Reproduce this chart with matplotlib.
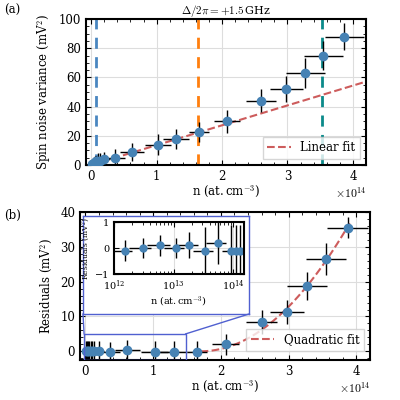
import numpy as np
import matplotlib
matplotlib.use("Agg")
import matplotlib.pyplot as plt
from matplotlib.patches import Rectangle

plt.rcParams.update({"font.family": "DejaVu Serif", "mathtext.fontset": "cm", "font.size": 8.5,
                     "xtick.direction": "in", "ytick.direction": "in",
                     "xtick.top": True, "ytick.right": True, "axes.linewidth": 1.5})

x = [0.01, 0.02, 0.04, 0.06, 0.08, 0.10, 0.13, 0.20, 0.36, 0.62, 1.02, 1.30, 1.65, 2.07, 2.60, 2.98, 3.27, 3.55, 3.87]
var = [0.5, 1.0, 1.5, 2.0, 2.5, 3.0, 3.0, 4.0, 5.0, 9.0, 14.0, 18.0, 22.5, 30.0, 44.0, 52.0, 63.0, 75.0, 88.0]
var_err = [3, 3, 4, 4, 4, 5, 5, 5, 6, 6, 7, 7, 7, 8, 8, 9, 10, 10, 9]
x_err = [0.01, 0.02, 0.03, 0.03, 0.04, 0.05, 0.06, 0.08, 0.15, 0.18, 0.2, 0.2, 0.15, 0.2, 0.23, 0.25, 0.3, 0.3, 0.3]
resid = [0, 0, 0, 0, 0, 0, 0, 0, -0.2, 0.3, -0.1, -0.1, -0.1, 2.0, 8.5, 11.3, 18.8, 26.5, 35.5]
resid_err = [3, 3, 3, 3, 3, 3, 3, 3, 3, 3, 3, 3, 3, 3, 3.5, 3.5, 4, 4.5, 3]
inset_x = [1.5e12, 3e12, 6e12, 1.1e13, 1.8e13, 3.3e13, 5.5e13, 9e13, 1.1e14, 1.3e14]
inset_y = [-0.1, 0.0, 0.1, 0.0, 0.1, -0.1, 0.2, -0.1, -0.1, -0.1]
inset_yerr = [0.4, 0.4, 0.4, 0.4, 0.5, 0.9, 0.8, 1.0, 1.0, 1.0]
inset_xerr = [0.5e12, 1.2e12, 2.5e12, 4e12, 7e12, 1.2e13, 2e13, 2.5e13, 3e13, 3e13]
vlines = [0.07, 1.63, 3.53]
vcolors = ["#4a86c0", "#ff7f0e", "#0b8a8a"]
slope = 13.6
quad_a, quad_x0 = 7.6, 1.7

blue = "#4682b4"
red = "#cd5c5c"
fig = plt.figure(figsize=(4, 4), dpi=100)
ax1 = fig.add_axes([0.215, 0.5875, 0.70, 0.365])
for v, c in zip(vlines, vcolors):
    ax1.axvline(v, color=c, ls=(0, (4, 3)), lw=2)
ax1.errorbar(x, var, yerr=var_err, xerr=x_err, fmt="o", color=blue, ecolor="black", elinewidth=1, ms=6, zorder=3)
xf = np.linspace(0, 4.2, 50)
ax1.plot(xf, slope * xf, color=red, ls="--", lw=1.5, label="Linear fit")
ax1.set_xlim(-0.08, 4.2); ax1.set_ylim(0, 100)
ax1.grid(color="#dddddd")
ax1.minorticks_on()
ax1.set_ylabel(r"Spin noise variance (mV$^2$)")
ax1.set_xlabel(r"n (at.$\,$cm$^{-3}$)", labelpad=1)
ax1.set_title(r"$\Delta/2\pi = +1.5\,$GHz", fontsize=8, pad=1)
ax1.text(1.0, -0.14, r"$\times10^{14}$", transform=ax1.transAxes, ha="right", va="top")
ax1.legend(loc="lower right", fancybox=False)
fig.text(0.01, 0.975, "(a)", va="center")

ax2 = fig.add_axes([0.2, 0.1, 0.725, 0.37])
ax2.errorbar(x, resid, yerr=resid_err, xerr=x_err, fmt="o", color=blue, ecolor="black", elinewidth=1, ms=6, zorder=3)
xq = np.linspace(quad_x0, 3.9, 50)
ax2.plot(xq, quad_a * (xq - quad_x0) ** 2, color=red, ls="--", lw=1.5, label="Quadratic fit")
ax2.set_xlim(-0.08, 4.2); ax2.set_ylim(-2.5, 40)
ax2.grid(color="#dddddd")
ax2.minorticks_on()
ax2.set_ylabel(r"Residuals (mV$^2$)")
ax2.set_xlabel(r"n (at.$\,$cm$^{-3}$)", labelpad=1)
ax2.text(1.0, -0.14, r"$\times10^{14}$", transform=ax2.transAxes, ha="right", va="top")
ax2.legend(loc="lower right", bbox_to_anchor=(1.0, 0.02), fancybox=False)
fig.text(0.01, 0.462, "(b)", va="center")
ax2.add_patch(Rectangle((-0.02, -2.5), 1.5, 7.5, fill=False, ec="#5060d0", lw=1, zorder=5))
fx0, fy0, fw, fh = 0.2075, 0.215, 0.415, 0.245
frame = fig.add_axes([fx0, fy0, fw, fh])
frame.set_xticks([]); frame.set_yticks([])
for s in frame.spines.values():
    s.set_color("#5060d0"); s.set_linewidth(1)
frame.patch.set_facecolor("white")
ax3 = fig.add_axes([0.285, 0.315, 0.325, 0.13])
ax3.errorbar(inset_x, inset_y, yerr=inset_yerr, xerr=inset_xerr, fmt="o", color=blue, ecolor="black", elinewidth=1, ms=5)
ax3.set_xscale("log")
ax3.set_xlim(1e12, 1.5e14); ax3.set_ylim(-1, 1)
ax3.set_yticks([-1, 0, 1])
ax3.set_ylabel(r"Residuals (mV$^2$)", fontsize=5.5, labelpad=1)
ax3.set_xlabel(r"n (at.$\,$cm$^{-3}$)", fontsize=7, labelpad=1)
ax3.tick_params(labelsize=7)
ax3.grid(color="#dddddd")
p1 = ax2.transData.transform((-0.02, 5)); p2 = ax2.transData.transform((1.48, 5))
f1 = fig.transFigure.inverted().transform(p1); f2 = fig.transFigure.inverted().transform(p2)
fig.add_artist(plt.Line2D([f1[0], fx0], [f1[1], fy0], color="#5060d0", lw=1))
fig.add_artist(plt.Line2D([f2[0], fx0 + fw], [f2[1], fy0], color="#5060d0", lw=1))
fig.savefig("out.png", dpi=100)
